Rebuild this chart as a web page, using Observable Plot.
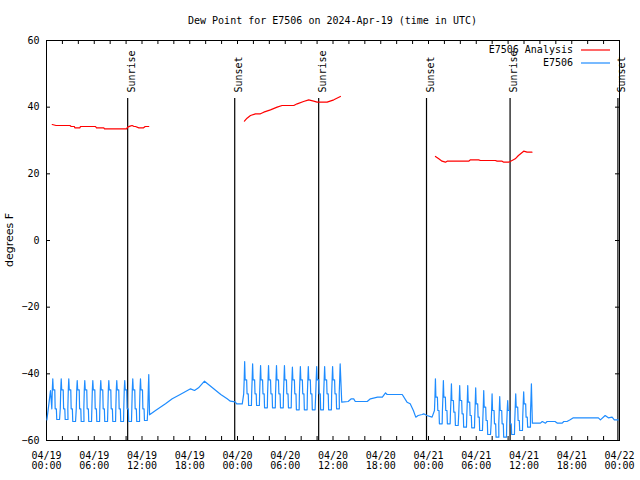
<!DOCTYPE html>
<html><head><meta charset="utf-8">
<script src="https://cdn.jsdelivr.net/npm/d3@7"></script>
<script src="https://cdn.jsdelivr.net/npm/@observablehq/plot@0.6"></script>
<style>body{margin:0;background:#fff}</style>
</head><body><div id="chart"></div>
<script>
const titleText = "Dew Point for E7506 on 2024-Apr-19 (time in UTC)";
const yLabel = "degrees F";
const seriesNames = ["E7506 Analysis", "E7506"];
const yTicks = [-60, -40, -20, 0, 20, 40, 60];
const sunLabels = ["Sunrise", "Sunset", "Sunrise", "Sunset", "Sunrise", "Sunset"];
const sunHours = [10.2, 23.65, 34.2, 47.75, 58.25, 71.8];

// Analysis (hours since 04/19 00:00 UTC, degrees F); null = gap
const analysisHours = [0.72,1.2,2.95,3.1,3.5,3.56,4.2,4.27,6.16,6.28,7.2,7.29,10.05,10.2,10.5,10.76,11.0,11.18,11.6,12.2,12.4,12.85, 18,
  24.87,25.2,25.63,26.26,26.88,27.3,28.14,28.98,29.6,31.07,31.5,32.3,32.95,33.58,34.0,35.26,36.1,36.93, 42,
  48.87,49.29,49.7,50.13,50.34,53.05,53.27,54.3,54.52,56.4,56.62,57.25,57.45,58.08,58.5,58.9,59.3,59.96,60.39,61.0];
const analysisValues = [34.8,34.5,34.5,34.2,34.2,33.8,33.8,34.2,34.2,33.8,33.8,33.5,33.5,34.0,34.3,34.5,34.2,34.2,33.8,33.8,34.2,34.2, null,
  35.8,36.7,37.5,38.0,38.0,38.5,39.2,40.0,40.5,40.5,41.0,41.7,42.2,41.8,41.5,41.5,42.2,43.2, null,
  25.2,24.5,23.8,23.5,23.8,23.8,24.2,24.2,24.0,24.0,23.8,23.8,23.5,23.5,24.0,24.5,25.5,26.8,26.5,26.5];

// Observation spikes: [hour of peak, peak, upper step, lower step, floor]
const spikesA = [[0.79,-41.5,-44.8,-50.5,-53.7],[1.85,-41.5,-44.8,-50.5,-53.7],[2.8,-41.5,-44.8,-50.5,-54.3],[3.86,-42,-44.8,-50.5,-54.3],
  [4.81,-42,-44.8,-50.5,-54.3],[5.82,-42,-44.8,-50.5,-54.3],[6.82,-42,-44.8,-50.5,-54.3],[7.83,-42,-44.8,-50.5,-54.3],
  [8.83,-42,-44.8,-50.5,-54.3],[9.83,-42,-44.8,-50.5,-54.3],[10.84,-41.5,-44.8,-50.5,-54.3],[11.81,-41.5,-44.8,-50.5,-54],[12.85,-40.2,-44.8,-50.5,-53.5]];
const spikesB = [[24.9,-36.3,-41.8,-46,-49.5],[25.9,-37,-41.8,-46,-49.5],[26.9,-37.5,-41.8,-46,-50.2],[27.9,-37.5,-41.8,-46,-50.2],
  [28.9,-37.5,-41.8,-46,-50.2],[29.9,-37.5,-41.8,-46,-50.2],[30.9,-38,-41.8,-46,-50.8],[31.9,-37.8,-41.8,-46,-50.8],
  [32.9,-37.8,-41.8,-46,-50.8],[33.95,-37.8,-41.8,-46,-50.8],[34.95,-37.8,-41.8,-46,-50.8],[35.95,-37.8,-41.8,-46,-50.5],[36.9,-37,-41.8,-46,-50.2]];
const spikesC = [[48.87,-41.5,-47,-51,-55],[49.87,-42,-47,-51,-55],[50.88,-43,-48,-51.5,-55.5],[51.92,-43.5,-48,-52,-56],
  [52.93,-43.5,-48.5,-52.5,-56.2],[53.93,-44.2,-49,-53,-57],[54.94,-45,-50,-54,-58.2],[55.99,-46,-51,-55,-59],
  [56.95,-46.8,-51,-55,-59],[57.95,-48,-51,-55,-58.2],[58.96,-46,-50,-54,-57],[59.96,-45.4,-49,-53,-56],[60.93,-43,-48,-52,-55]];
// Smooth stretches between spike periods
const smoothAB = [[12.95,-52.3],[13.7,-51],[14.95,-49],[15.8,-47.5],[16.8,-46.2],[18.1,-44.5],[18.6,-45],[19.1,-44.2],[19.85,-42.2],
  [21.9,-46.2],[22.7,-47.5],[23.1,-48.2],[23.7,-48.4],[23.9,-49],[24.6,-49]];
const smoothBC = [[37.1,-48.5],[37.9,-48.3],[38.3,-47.5],[38.6,-47.5],[38.8,-48.3],[40.3,-48.3],[40.7,-47.5],[41.6,-47],[42.2,-47],
  [42.6,-45.7],[42.8,-46.2],[44.7,-46.2],[45.3,-48.5],[45.7,-49],[46.1,-51],[46.4,-53],[46.7,-52.5],[47.2,-52.2],[47.4,-52],[47.8,-52.5],[48.45,-53]];
const smoothEnd = [[61.05,-54.8],[62.06,-54.8],[62.3,-54.3],[62.7,-54.8],[62.9,-54.3],[63.9,-54.3],[64.2,-54.8],[64.8,-54.8],[65.0,-54.3],
  [65.4,-54.3],[65.8,-53.8],[66.2,-53.2],[69.35,-53.2],[69.6,-53.8],[70.2,-52.5],[70.6,-53.2],[71.07,-53],[71.35,-53.8],[71.85,-53.8]];

const base = Date.UTC(2024, 3, 19);
const T = h => new Date(base + h * 3600e3);

function spikePoints(rows) {
  const out = [];
  rows.forEach(([h, top, up, lo, fl], i) => {
    out.push([h - 0.12, lo], [h - 0.06, up], [h, top]);
    if (i < rows.length - 1) out.push([h + 0.06, up], [h + 0.25, up], [h + 0.3, lo], [h + 0.45, lo], [h + 0.5, fl], [h + 0.85, fl]);
  });
  return out;
}
const obs = [[0.05, -53.8], [0.3, -49], [0.5, -45]]
  .concat(spikePoints(spikesA), smoothAB, spikePoints(spikesB), smoothBC, spikePoints(spikesC), smoothEnd)
  .map(([h, v]) => ({t: T(h), v}));
const analysis = analysisHours.map((h, i) => ({t: T(h), v: analysisValues[i]}));
const sun = sunHours.map((h, i) => ({t: T(h), label: sunLabels[i]}));
const minorTicks = d3.range(0, 73, 2).map(T);

const W = 640, H = 480, mL = 46, mR = 21, mT = 40, mB = 40;
const pw = W - mL - mR, ph = H - mT - mB;
const fmtD = d3.utcFormat("%m/%d"), fmtT = d3.utcFormat("%H:%M");
const mono = "DejaVu Sans Mono";

const svg = Plot.plot({
  width: W, height: H, marginLeft: mL, marginRight: mR, marginTop: mT, marginBottom: mB,
  style: {fontFamily: mono, fontSize: "10px", color: "#000", background: "#fff"},
  x: {type: "utc", domain: [T(0), T(72)]},
  y: {domain: [-60, 60]},
  marks: [
    Plot.frame({stroke: "#000"}),
    Plot.ruleX(minorTicks, {x: d => d, insetTop: ph - 4, stroke: "#000"}),
    Plot.ruleX(minorTicks, {x: d => d, insetBottom: ph - 4, stroke: "#000"}),
    Plot.ruleY(yTicks, {y: d => d, insetRight: pw - 4, stroke: "#000"}),
    Plot.ruleY(yTicks, {y: d => d, insetLeft: pw - 4, stroke: "#000"}),
    Plot.axisX({ticks: d3.utcHour.every(6), tickSize: 0, tickPadding: 11, tickFormat: d => fmtD(d) + "\n" + fmtT(d), label: null, fontSize: 10}),
    Plot.axisY({ticks: yTicks, tickSize: 0, tickPadding: 7, label: null, fontSize: 10}),
    Plot.ruleX(sun, {x: "t", insetTop: 58, stroke: "#000", strokeWidth: 1.2}),
    Plot.text(sun, {x: "t", text: "label", frameAnchor: "top", dy: 52, rotate: -90, textAnchor: "start", fill: "#000", fontSize: 10}),
    Plot.line(analysis, {x: "t", y: "v", stroke: "#ff0000", strokeWidth: 1.2}),
    Plot.line(obs, {x: "t", y: "v", stroke: "#1e8cff", strokeWidth: 1.2}),
  ]
});

const s = d3.select(svg);
s.append("text").attr("x", mL + pw / 2).attr("y", 21).attr("text-anchor", "middle").attr("dominant-baseline", "middle")
  .attr("font-family", mono).attr("font-size", 10).text(titleText);
s.append("text").attr("transform", `translate(10,${mT + ph / 2}) rotate(-90)`).attr("text-anchor", "middle").attr("dominant-baseline", "middle")
  .attr("font-family", "DejaVu Sans").attr("font-size", 11).text(yLabel);
const legColors = ["#ff0000", "#1e8cff"];
seriesNames.forEach((name, i) => {
  const y = 50 + i * 13;
  s.append("text").attr("x", 573).attr("y", y).attr("text-anchor", "end").attr("dominant-baseline", "middle")
    .attr("font-family", mono).attr("font-size", 10).text(name);
  s.append("line").attr("x1", 581).attr("x2", 610).attr("y1", y).attr("y2", y).attr("stroke", legColors[i]).attr("stroke-width", 1.2);
});
document.getElementById("chart").appendChild(svg);
</script></body></html>
